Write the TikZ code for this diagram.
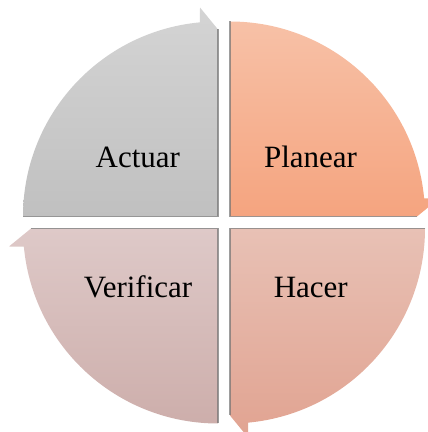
\documentclass[tikz,border=0pt]{standalone}
\usepackage{fontspec}
\setmainfont{Liberation Serif}
\begin{document}
\begin{tikzpicture}[x=1pt,y=1pt,
  lbl/.style={anchor=base, font=\fontsize{31}{36}\selectfont, text=black, inner sep=0pt},
  edgeline/.style={draw=black!55, draw opacity=0.7, line width=1.2pt}]
\useasboundingbox (0,0) rectangle (428,432);
\clip (0,0) rectangle (428,432);
\definecolor{grayT}{HTML}{D4D4D4}\definecolor{grayB}{HTML}{C0C0C0}
\definecolor{oraT}{HTML}{F7C1A7}\definecolor{oraB}{HTML}{F5A47F}
\definecolor{verT}{HTML}{DEC9C8}\definecolor{verB}{HTML}{CDAEAB}
\definecolor{hacT}{HTML}{E8C1B5}\definecolor{hacB}{HTML}{E1A391}
% Actuar (top-left)
\begin{scope}[shift={(218,215.5)}]
  \shade[top color=grayT, bottom color=grayB] (0,0) -- (-195,0) arc[start angle=180,end angle=95.3,radius=195] -- (-18,209) -- (0,187) -- cycle;
  \draw[edgeline] (0,187) -- (0,0) -- (-195,0);
\end{scope}
% Planear (top-right)
\begin{scope}[shift={(230,215.5)}]
  \shade[top color=oraT, bottom color=oraB] (0,0) -- (0,195) arc[start angle=90,end angle=5.3,radius=195] -- (209,18) -- (187,0) -- cycle;
  \draw[edgeline] (0,195) -- (0,0) -- (187,0);
\end{scope}
% Verificar (bottom-left)
\begin{scope}[shift={(218,203.5)}]
  \shade[top color=verT, bottom color=verB] (0,0) -- (0,-195) arc[start angle=270,end angle=185.3,radius=195] -- (-209,-18) -- (-187,0) -- cycle;
  \draw[edgeline] (0,-195) -- (0,0) -- (-187,0);
\end{scope}
% Hacer (bottom-right)
\begin{scope}[shift={(230,203.5)}]
  \shade[top color=hacT, bottom color=hacB] (0,0) -- (195,0) arc[start angle=0,end angle=-84.7,radius=195] -- (18,-209) -- (0,-187) -- cycle;
  \draw[edgeline] (195,0) -- (0,0) -- (0,-187);
\end{scope}
\node[lbl] (actuar) at (137.8,264.5) {Actuar};
\node[lbl] (planear) at (310.5,264) {Planear};
\node[lbl] (verificar) at (138,134) {Verificar};
\node[lbl] (hacer) at (310.8,134) {Hacer};
\end{tikzpicture}
\end{document}
